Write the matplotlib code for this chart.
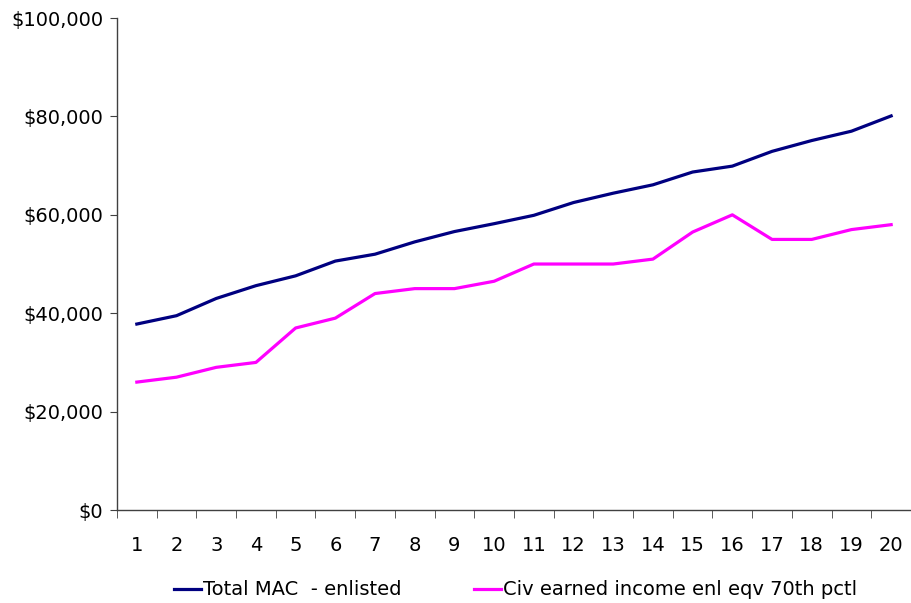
import numpy as np
import matplotlib
matplotlib.use('Agg')
import matplotlib.pyplot as plt
from matplotlib.ticker import FuncFormatter, FixedLocator

# ------------------------
# data
# ------------------------
years = list(range(1, 21))
total_mac = [37800, 39500, 43000, 45600, 47600, 50600, 52000, 54500, 56600, 58200,
             59900, 62500, 64400, 66100, 68700, 69900, 72900, 75100, 77000, 80100]
civ_income = [26000, 27000, 29000, 30000, 37000, 39000, 44000, 45000, 45000, 46500,
              50000, 50000, 50000, 51000, 56500, 60000, 55000, 55000, 57000, 58000]
series_labels = ['Total MAC  - enlisted', 'Civ earned income enl eqv 70th pctl']
# ------------------------

plt.rcParams['font.family'] = ['DejaVu Sans']

fig = plt.figure(figsize=(9.11, 6.03), dpi=100)
ax = fig.add_axes([0.1284, 0.1542, 0.8716, 0.8159])

ax.plot(years, total_mac, color='#000080', lw=2.3, label=series_labels[0])
ax.plot(years, civ_income, color='#FF00FF', lw=2.3, label=series_labels[1])

ax.set_xlim(0.5, 20.5)
ax.set_ylim(0, 100000)
ax.set_yticks(np.arange(0, 100001, 20000))
ax.yaxis.set_major_formatter(FuncFormatter(lambda v, p: '${:,.0f}'.format(v)))

# category ticks sit between points, labels on the points
ax.set_xticks(years)
ax.xaxis.set_minor_locator(FixedLocator(np.arange(0.5, 21, 1)))
ax.tick_params(axis='x', which='major', length=0, pad=19, labelsize=14)
ax.tick_params(axis='x', which='minor', length=6, direction='out', color='#404040')
ax.tick_params(axis='y', length=5, direction='out', labelsize=14, color='#404040', pad=5)

for s in ['top', 'right']:
    ax.spines[s].set_visible(False)
for s in ['left', 'bottom']:
    ax.spines[s].set_color('#404040')
    ax.spines[s].set_linewidth(1.0)

fig.legend(loc='center', bbox_to_anchor=(0.566, 0.0216), ncol=2, frameon=False,
           fontsize=14, handlelength=1.4, handletextpad=0.12, columnspacing=3.7,
           borderpad=0)

fig.savefig('out.png', dpi=100)
